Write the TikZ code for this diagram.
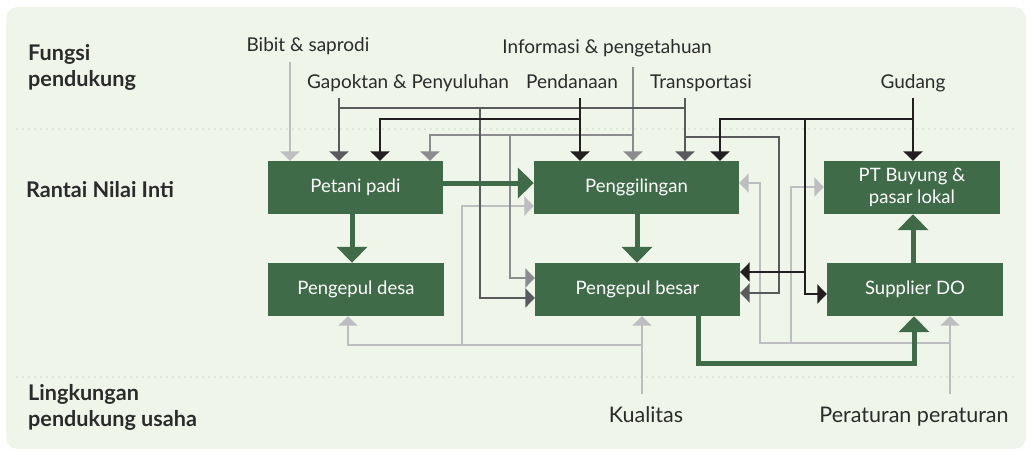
\documentclass[tikz,border=0pt]{standalone}
\usepackage{fontspec}
\setmainfont{Lato}
\usetikzlibrary{arrows.meta,calc}
\definecolor{bg}{HTML}{F0F5EA}
\definecolor{boxgreen}{HTML}{3F6B48}
\definecolor{txt}{HTML}{2B2B2B}
\definecolor{lg}{HTML}{BEBEC1}
\definecolor{mg}{HTML}{8C8C8F}
\definecolor{dg}{HTML}{5A5A5D}
\definecolor{bk}{HTML}{231F20}
\definecolor{sepc}{HTML}{D6DBD3}
\begin{document}
\begin{tikzpicture}[x=1pt,y=-1pt,
  box/.style={fill=boxgreen, text=white, inner sep=0pt, align=center,
    font=\fontsize{18.5}{22}\selectfont},
  lbl/.style={text=txt, anchor=base, inner sep=0pt, font=\fontsize{19}{23}\selectfont},
  lblb/.style={text=txt, anchor=base, inner sep=0pt, font=\fontsize{21.5}{25}\selectfont},
  head/.style={text=txt, anchor=base west, inner sep=0pt, font=\bfseries\fontsize{21.6}{26}\selectfont},
  cn/.style={line width=2.3pt},
  tip/.style={-{Triangle[width=19pt,length=9.5pt]}},
  fat/.style={line width=5pt, draw=boxgreen, -{Triangle[width=30pt,length=16pt]}},
  sep/.style={draw=sepc, line width=2pt, line cap=round, dash pattern=on 0pt off 6pt}]
\useasboundingbox (0,0) rectangle (1031,451);
\fill[white] (0,0) rectangle (1031,451);
\fill[bg, rounded corners=12pt] (6,7) rectangle (1026,449);
\draw[sep] (17,129) -- (1018,129);
\draw[sep] (17,377) -- (1018,377);

% row headings
\node[head] (fungsi) at (28,60) {Fungsi};
\node[head] (fungsib) at (28,86) {pendukung};
\node[head] (rantai) at (26,197) {Rantai Nilai Inti};
\node[head] (ling) at (28,400) {Lingkungan};
\node[head] (lingb) at (28,426) {pendukung usaha};

% core boxes
\node[box, minimum width=175pt, minimum height=53pt] (petani) at (355.5,187.5) {Petani padi};
\node[box, minimum width=176pt, minimum height=53pt] (desa) at (356,289.5) {Pengepul desa};
\node[box, minimum width=205pt, minimum height=53pt] (giling) at (636.5,187.5) {Penggilingan};
\node[box, minimum width=205pt, minimum height=53pt] (besar) at (637.5,289.5) {Pengepul besar};
\node[box, minimum width=176pt, minimum height=53pt] (pt) at (912,187.5) {PT Buyung \&\\pasar lokal};
\node[box, minimum width=176pt, minimum height=53pt] (supplier) at (915,289.5) {Supplier DO};

% support labels
\node[lbl] (bibit) at (308,51) {Bibit \& saprodi};
\node[lbl] (gap) at (408,88) {Gapoktan \& Penyuluhan};
\node[lbl] (info) at (607,53) {Informasi \& pengetahuan};
\node[lbl] (dana) at (572,88) {Pendanaan};
\node[lbl] (trans) at (701,88) {Transportasi};
\node[lbl] (gudang) at (913,88) {Gudang};
\node[lblb] (kual) at (646,422) {Kualitas};
\node[lblb] (perat) at (914,422) {Peraturan peraturan};

% connector start points
\coordinate (b0) at (290,62);
\coordinate (g0) at (339,98);
\coordinate (i0) at (633,67);
\coordinate (d0) at (580,98);
\coordinate (t0) at (685,98);
\coordinate (w0) at (913,98);
\coordinate (k0) at (642,394);
\coordinate (r0) at (950,394);

% Bibit & saprodi
\draw[cn,lg,tip] (b0) -- (b0 |- petani.north);

% Kualitas
\draw[cn,lg,tip] (k0) -- (k0 |- besar.south);
\draw[cn,lg,tip] (642,345) -| (desa.south -| 348,0);
\draw[cn,lg,tip] (462,345) |- (giling.west |- 0,206);

% Peraturan
\draw[cn,lg,tip] (r0) -- (r0 |- supplier.south);
\draw[cn,lg,tip] (950,343) -| (760,183) -- (giling.east |- 0,183);
\draw[cn,lg,tip] (791,343) |- (pt.west |- 0,187);

% Informasi & pengetahuan
\draw[cn,mg,tip] (i0) -- (i0 |- giling.north);
\draw[cn,mg,tip] (633,135) -| (petani.north -| 430,0);
\draw[cn,mg,tip] (510,135) |- (besar.west |- 0,278);

% Gapoktan & Penyuluhan
\draw[cn,dg,tip] (g0) -- (g0 |- petani.north);
\draw[cn,dg] (339,108) -- (685,108);
\draw[cn,dg,tip] (480,108) |- (besar.west |- 0,298);

% Transportasi
\draw[cn,dg,tip] (t0) -- (t0 |- giling.north);
\draw[cn,dg,tip] (685,137) -| (779,293) -- (besar.east |- 0,293);

% Pendanaan
\draw[cn,bk,tip] (d0) -- (d0 |- giling.north);
\draw[cn,bk,tip] (580,119) -| (petani.north -| 380,0);

% Gudang
\draw[cn,bk,tip] (w0) -- (w0 |- pt.north);
\draw[cn,bk,tip] (913,119) -| (giling.north -| 720,0);
\draw[cn,bk,tip] (805,119) |- (supplier.west |- 0,294);
\draw[cn,bk,tip] (805,272) -- (besar.east |- 0,272);

% core flows
\draw[fat] (petani.east |- 0,183) -- (giling.west |- 0,183);
\draw[fat] (petani.south -| 352,0) -- (desa.north -| 352,0);
\draw[fat] (giling.south -| 637,0) -- (besar.north -| 637,0);
\draw[fat] (supplier.north -| 913,0) -- (pt.south -| 913,0);
\draw[fat] (besar.south -| 698,0) |- (914,363) -- (supplier.south -| 914,0);
\end{tikzpicture}
\end{document}
